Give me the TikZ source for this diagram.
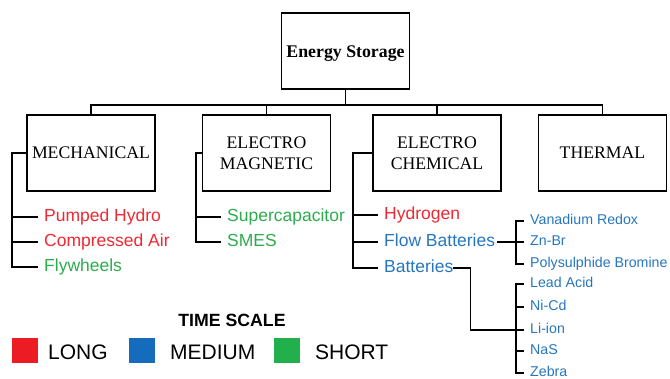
\documentclass[tikz,border=0pt]{standalone}
\usepackage{fontspec}
\setmainfont{Liberation Serif}
\newfontfamily\arialf{Liberation Sans}
\usetikzlibrary{calc}
\definecolor{cred}{RGB}{237,28,36}
\definecolor{cblue}{RGB}{21,108,189}
\definecolor{cgreen}{RGB}{34,176,77}
\definecolor{tred}{RGB}{240,40,50}
\definecolor{tblue}{RGB}{38,118,190}
\definecolor{tgreen}{RGB}{45,172,78}
\tikzset{
  basebox/.style={draw, line width=1.4pt, minimum width=128pt, minimum height=76pt, inner sep=0pt, font=\fontsize{17.7}{21}\selectfont},
  box/.style={basebox, align=center},
  item/.style={anchor=west, inner xsep=6pt, inner ysep=0pt, text height=13pt, text depth=4pt, font=\arialf\fontsize{17.5}{20}\selectfont},
  sub/.style={anchor=west, inner xsep=6pt, inner ysep=0pt, text height=10.5pt, text depth=4pt, font=\arialf\fontsize{14.2}{16}\selectfont, text=tblue},
  conn/.style={line width=1.5pt},
  legtext/.style={anchor=west, inner sep=0pt, font=\arialf\fontsize{21}{24}\selectfont},
  sq/.style={inner sep=0pt, minimum width=26pt, minimum height=25pt}
}
\begin{document}
\begin{tikzpicture}[x=1pt,y=-1pt]
\useasboundingbox (0,0) rectangle (670,378);
% boxes
\node[basebox, text height=12pt, text depth=0pt, font=\bfseries\fontsize{17.8}{21}\selectfont] (top) at (345.5,51) {Energy Storage};
\node[box] (mech) at (91,153) {MECHANICAL};
\node[box] (em) at (266.5,153) {ELECTRO\\MAGNETIC};
\node[box] (ec) at (437,153) {ELECTRO\\CHEMICAL};
\node[box] (th) at (602.5,153) {THERMAL};
% bus
\coordinate (busy) at (0,105);
\draw[conn] (top.south) -- (top.south |- busy);
\draw[conn] (mech.north) -- (mech.north |- busy) -- (th.north |- busy) -- (th.north);
\draw[conn] (em.north) -- (em.north |- busy);
\draw[conn] (ec.north) -- (ec.north |- busy);
% mechanical items
\node[item, text=tred] (ph) at (38,217) {Pumped Hydro};
\node[item, text=tred] (ca) at (38,242) {Compressed Air};
\node[item, text=tgreen] (fw) at (38,267) {Flywheels};
\draw[conn] (mech.west) -| ([xshift=-26pt]fw.west) -- (fw.west);
\draw[conn] ([xshift=-26pt]ph.west) -- (ph.west);
\draw[conn] ([xshift=-26pt]ca.west) -- (ca.west);
% electromagnetic items
\node[item, text=tgreen] (sc) at (221,217) {Supercapacitor};
\node[item, text=tgreen] (sm) at (221,242) {SMES};
\draw[conn] (em.west) -| ([xshift=-25pt]sm.west) -- (sm.west);
\draw[conn] ([xshift=-25pt]sc.west) -- (sc.west);
% electrochemical items
\node[item, text=tred] (hy) at (378,215) {Hydrogen};
\node[item, text=tblue] (fb) at (378,242) {Flow Batteries};
\node[item, text=tblue] (bat) at (378,268) {Batteries};
\draw[conn] (ec.west) -| ([xshift=-25pt]bat.west) -- (bat.west);
\draw[conn] ([xshift=-25pt]hy.west) -- (hy.west);
\draw[conn] ([xshift=-25pt]fb.west) -- (fb.west);
% flow batteries sub items
\node[sub] (vr) at (524,221) {Vanadium Redox};
\node[sub] (zn) at (524,242) {Zn-Br};
\node[sub] (pb) at (524,264) {Polysulphide Bromine};
\draw[conn] (vr.west) -- ++(-8,0) |- (pb.west);
\draw[conn] ([xshift=-4pt]fb.east) -- (zn.west);
% batteries sub items
\node[sub] (la) at (524,284) {Lead Acid};
\node[sub] (nc) at (524,307) {Ni-Cd};
\node[sub] (li) at (524,330) {Li-ion};
\node[sub] (na) at (524,351) {NaS};
\node[sub] (ze) at (524,373) {Zebra};
\draw[conn] (la.west) -- ++(-8,0) |- (ze.west);
\draw[conn] ([xshift=-8pt]nc.west) -- (nc.west);
\draw[conn] ([xshift=-8pt]na.west) -- (na.west);
\draw[conn] ([xshift=-6pt]bat.east) -- ++(17,0) |- (li.west);
% legend
\node[inner sep=0pt, font=\arialf\bfseries\fontsize{17.7}{20}\selectfont] (ts) at (232,320) {TIME SCALE};
\node[sq, fill=cred] (lr) at (25,350.5) {};
\node[sq, fill=cblue] (lb) at (141.5,350.5) {};
\node[sq, fill=cgreen] (lg) at (286.5,350.5) {};
\node[legtext] (tl) at (48,352) {LONG};
\node[legtext] (tm) at (170,352) {MEDIUM};
\node[legtext] (tsh) at (315,352) {SHORT};
\end{tikzpicture}
\end{document}
